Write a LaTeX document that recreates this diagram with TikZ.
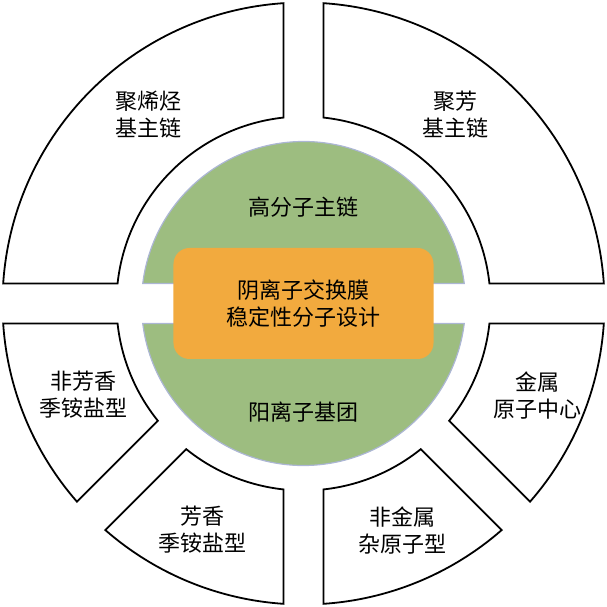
\documentclass[tikz,border=0pt]{standalone}
\usepackage{fontspec}
\newfontfamily\cjk{Noto Sans CJK SC}
\usetikzlibrary{positioning}

\definecolor{hubgreen}{RGB}{157,189,128}
\definecolor{hubedge}{RGB}{172,182,212}
\definecolor{coreorange}{RGB}{242,170,62}

\tikzset{
  seg/.style={draw=black,line width=1.8pt,fill=white,line join=miter},
  half/.style={fill=hubgreen,draw=hubedge,line width=1.2pt},
  lbl/.style={font=\cjk\fontsize{22}{27}\selectfont,align=center,inner sep=0pt},
  core/.style={lbl,fill=coreorange,rounded corners=16pt,minimum width=260pt,minimum height=111pt}
}

\begin{document}
\begin{tikzpicture}[x=1pt,y=1pt]
\useasboundingbox (-303.5,-303.5) rectangle (303.5,303.5);
\pgfmathsetmacro{\ro}{301}
\pgfmathsetmacro{\ri}{187}
\pgfmathsetmacro{\dout}{asin(20/\ro)}
\pgfmathsetmacro{\din}{asin(20/\ri)}
% outer ring, six pieces
\foreach \a/\b in {90/180, 0/90, 180/225, 225/270, 270/315, 315/360}
  \draw[seg] ({\a+\dout}:\ro) arc[start angle=\a+\dout, end angle=\b-\dout, radius=\ro]
    -- ({\b-\din}:\ri) arc[start angle=\b-\din, end angle=\a+\din, radius=\ri] -- cycle;
% green hub, cut by the gap
\pgfmathsetmacro{\dh}{asin(20/162)}
\draw[half] (\dh:162) arc[start angle=\dh, end angle=180-\dh, radius=162] -- cycle;
\draw[half] (180+\dh:162) arc[start angle=180+\dh, end angle=360-\dh, radius=162] -- cycle;
\node[core] (core) at (0,0) {阴离子交换膜\\稳定性分子设计};
\node[lbl] (chain) at (0,96.5) {高分子主链};
\node[lbl] (cation) at (0,-108.5) {阳离子基团};
% ring labels
\node[lbl] (olefin) at (-154.5,188.5) {聚烯烃\\基主链};
\node[lbl] (aryl) at (151.5,188.5) {聚芳\\基主链};
\node[lbl] (nonarom) at (202.5:238) {非芳香\\季铵盐型};
\node[lbl] (arom) at (246:248) {芳香\\季铵盐型};
\node[lbl] (hetero) at (293.5:248) {非金属\\杂原子型};
\node[lbl] (metal) at (338.5:252) {金属\\原子中心};
\end{tikzpicture}
\end{document}
